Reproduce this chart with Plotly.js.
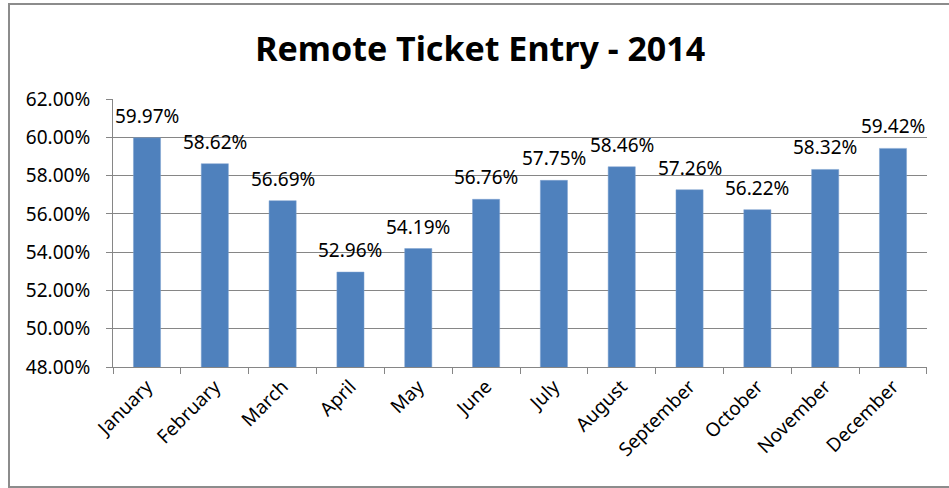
<!DOCTYPE html>
<html>
<head>
<meta charset="utf-8">
<script src="https://cdn.plot.ly/plotly-3.0.1.min.js"></script>
<style>
html,body{margin:0;padding:0;background:#fff;}
#chart{width:949px;height:488px;}
</style>
</head>
<body>
<div id="chart"></div>
<script>
const months = ["January","February","March","April","May","June","July","August","September","October","November","December"];
const entryRate = [0.5997,0.5862,0.5669,0.5296,0.5419,0.5676,0.5775,0.5846,0.5726,0.5622,0.5832,0.5942];
const yTickVals = [0.48,0.50,0.52,0.54,0.56,0.58,0.60,0.62];
const chartTitle = "Remote Ticket Entry - 2014";

const FONT = "Noto Sans, Calibri, sans-serif";
const FS = 19;

const trace = {
  type: "bar",
  x: months,
  y: entryRate,
  marker: {color: "#4F81BD", line: {color: "#7FA3D0", width: 0.5}},
  hoverinfo: "x+y"
};

const labels = months.map((m, i) => ({
  x: m, y: entryRate[i], xref: "x", yref: "y",
  text: (entryRate[i]*100).toFixed(2) + "%",
  showarrow: false,
  xanchor: "center", yanchor: "bottom",
  yshift: 7,
  font: {family: FONT, size: FS, color: "#000"}
}));

const layout = {
  width: 949,
  height: 488,
  margin: {l: 113, r: 22, t: 99, b: 121, pad: 0},
  paper_bgcolor: "#fff",
  plot_bgcolor: "#fff",
  showlegend: false,
  bargap: 0.6,
  font: {family: FONT, size: FS, color: "#000"},
  title: {
    text: "<b>" + chartTitle + "</b>",
    font: {family: FONT, size: 34, color: "#000"},
    xref: "container", x: 0.506, xanchor: "center",
    yref: "container", y: 0.9, yanchor: "middle"
  },
  xaxis: {
    type: "category",
    tickangle: -45,
    tickson: "boundaries",
    ticks: "outside",
    ticklen: 6,
    tickcolor: "#868686",
    showline: true,
    linecolor: "#868686",
    linewidth: 1,
    showgrid: false,
    tickfont: {family: FONT, size: FS, color: "#000"}
  },
  yaxis: {
    range: [0.48, 0.62],
    tickvals: yTickVals,
    tickformat: ".2%",
    ticks: "outside",
    ticklen: 6,
    tickcolor: "#868686",
    showline: true,
    linecolor: "#868686",
    linewidth: 1,
    showgrid: true,
    gridcolor: "#868686",
    gridwidth: 1,
    zeroline: false,
    ticklabelstandoff: 12,
    tickfont: {family: FONT, size: FS, color: "#000"}
  },
  annotations: labels,
  shapes: [{
    type: "rect", xref: "paper", yref: "paper",
    x0: (9 - 113) / 814, x1: (975 - 113) / 814,
    y0: (367 - 487) / 268, y1: (367 - 4) / 268,
    line: {color: "#8c8c8c", width: 2},
    fillcolor: "rgba(0,0,0,0)",
    layer: "below"
  }]
};

Plotly.newPlot("chart", [trace], layout, {displayModeBar: false, staticPlot: true});
</script>
</body>
</html>
